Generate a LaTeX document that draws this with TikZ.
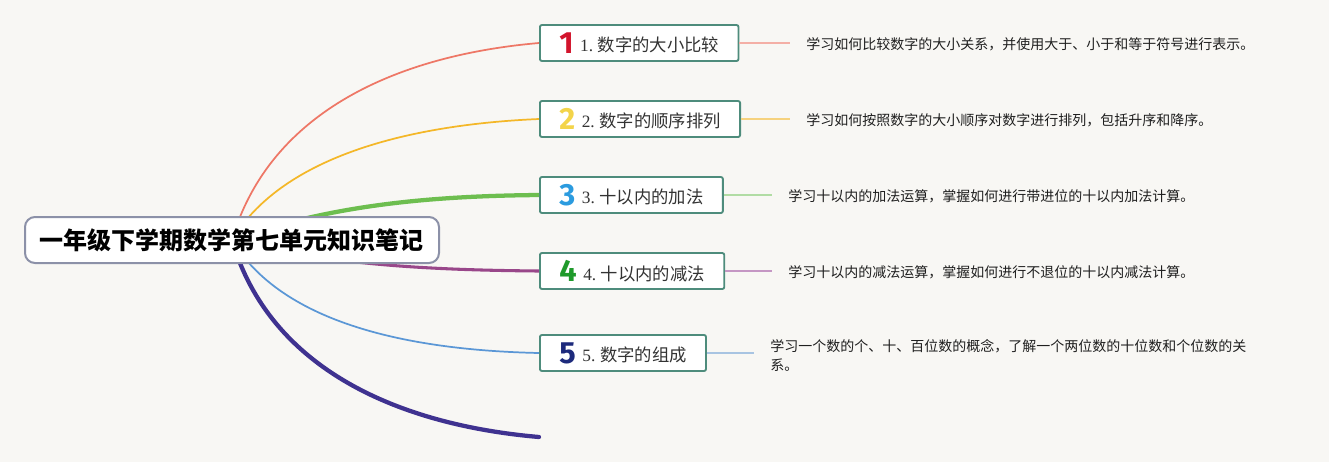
\documentclass[tikz,border=0pt]{standalone}
\usepackage{fontspec}
\setmainfont{Liberation Serif}
\newfontfamily\cjk{Noto Sans CJK SC}
\newfontfamily\iconf{Fira Sans}
\definecolor{bg}{HTML}{F8F7F4}
\definecolor{rootc}{HTML}{8C91A8}
\definecolor{boxc}{HTML}{4E8C7C}
\definecolor{txt}{HTML}{333333}
\definecolor{l1}{HTML}{EE7766}
\definecolor{l2}{HTML}{F4B728}
\definecolor{l3}{HTML}{6DBE4F}
\definecolor{l4}{HTML}{99478A}
\definecolor{l5}{HTML}{5B97D6}
\definecolor{l6}{HTML}{3F3290}
\definecolor{s1}{HTML}{F4AFA6}
\definecolor{s2}{HTML}{F6D27E}
\definecolor{s3}{HTML}{B1DCA4}
\definecolor{s4}{HTML}{C597C4}
\definecolor{s5}{HTML}{A8C4E2}
\definecolor{n1}{HTML}{D2142C}
\definecolor{n2}{HTML}{F3D44A}
\definecolor{n3}{HTML}{2B9BDF}
\definecolor{n4}{HTML}{1F9A2B}
\definecolor{n5}{HTML}{1D2A7C}
\pgfdeclarelayer{background}
\pgfsetlayers{background,main}
\newcommand\icn[2]{\raisebox{-1.2pt}{\iconf\bfseries\fontsize{23pt}{23pt}\selectfont\color{#1}#2}\hspace{5pt}}
\newcommand\lbl[2]{{\fontsize{13pt}{16pt}\selectfont\color{txt}#1\hspace{3.5pt}{\cjk #2}}}
\begin{document}
\begin{tikzpicture}[x=0.75pt,y=-0.75pt,
  rootbox/.style={draw=rootc, line width=1.5pt, fill=white, rounded corners=7.5pt,
    minimum width=310.5pt, minimum height=34.5pt, inner sep=0pt,
    font=\cjk\bfseries\fontsize{18pt}{22pt}\selectfont},
  childbox/.style={draw=boxc, line width=1.4pt, fill=white, rounded corners=1.5pt,
    minimum height=27pt, inner xsep=14.5pt, inner ysep=0pt, anchor=west},
  desc/.style={anchor=west, inner xsep=12pt, inner ysep=0pt, align=left,
    font=\cjk\fontsize{10.5pt}{14.25pt}\selectfont, text=black!88},
  branch/.style={line cap=round},
  stub/.style={line width=0.9pt}
]
\begin{pgfonlayer}{background}
\fill[bg] (0,0) rectangle (1329,462);
\end{pgfonlayer}
\useasboundingbox (0,0) rectangle (1329,462);

\node[rootbox] (root) at (232,240) {一年级下学期数学第七单元知识笔记};

\node[childbox] (c1) at (539,43) {\icn{n1}{1}\lbl{1.}{数字的大小比较}};
\node[childbox] (c2) at (539,119) {\icn{n2}{2}\lbl{2.}{数字的顺序排列}};
\node[childbox] (c3) at (539,195) {\icn{n3}{3}\lbl{3.}{十以内的加法}};
\node[childbox] (c4) at (539,271) {\icn{n4}{4}\lbl{4.}{十以内的减法}};
\node[childbox] (c5) at (539,353) {\icn{n5}{5}\lbl{5.}{数字的组成}};
\coordinate (e6) at (539,437);

\node[desc] (d1) at (790,44) {学习如何比较数字的大小关系，并使用大于、小于和等于符号进行表示。};
\node[desc] (d2) at (790,120) {学习如何按照数字的大小顺序对数字进行排列，包括升序和降序。};
\node[desc] (d3) at (772,196) {学习十以内的加法运算，掌握如何进行带进位的十以内加法计算。};
\node[desc] (d4) at (772,272) {学习十以内的减法运算，掌握如何进行不退位的十以内减法计算。};
\node[desc] (d5) at (754,355) {学习一个数的个、十、百位数的概念，了解一个两位数的十位数和个位数的关\\系。};

\begin{pgfonlayer}{background}
\draw[branch, l1, line width=1.3pt] (root.center) .. controls (270,110) and (400,55) .. (c1.west);
\draw[branch, l2, line width=1.3pt] (root.center) .. controls (280,160) and (400,125) .. (c2.west);
\draw[branch, l3, line width=3.2pt] (root.center) .. controls (330,205) and (430,196) .. (c3.west);
\draw[branch, l4, line width=2.3pt] (root.center) .. controls (330,265) and (430,270) .. (c4.west);
\draw[branch, l5, line width=1.3pt] (root.center) .. controls (280,320) and (400,350) .. (c5.west);
\draw[branch, l6, line width=3.2pt] (root.center) .. controls (270,370) and (400,425) .. (e6);
\end{pgfonlayer}

\draw[stub, s1] (c1.east) -- (c1.east -| d1.west);
\draw[stub, s2] (c2.east) -- (c2.east -| d2.west);
\draw[stub, s3] (c3.east) -- (c3.east -| d3.west);
\draw[stub, s4] (c4.east) -- (c4.east -| d4.west);
\draw[stub, s5] (c5.east) -- (c5.east -| d5.west);
\end{tikzpicture}
\end{document}
